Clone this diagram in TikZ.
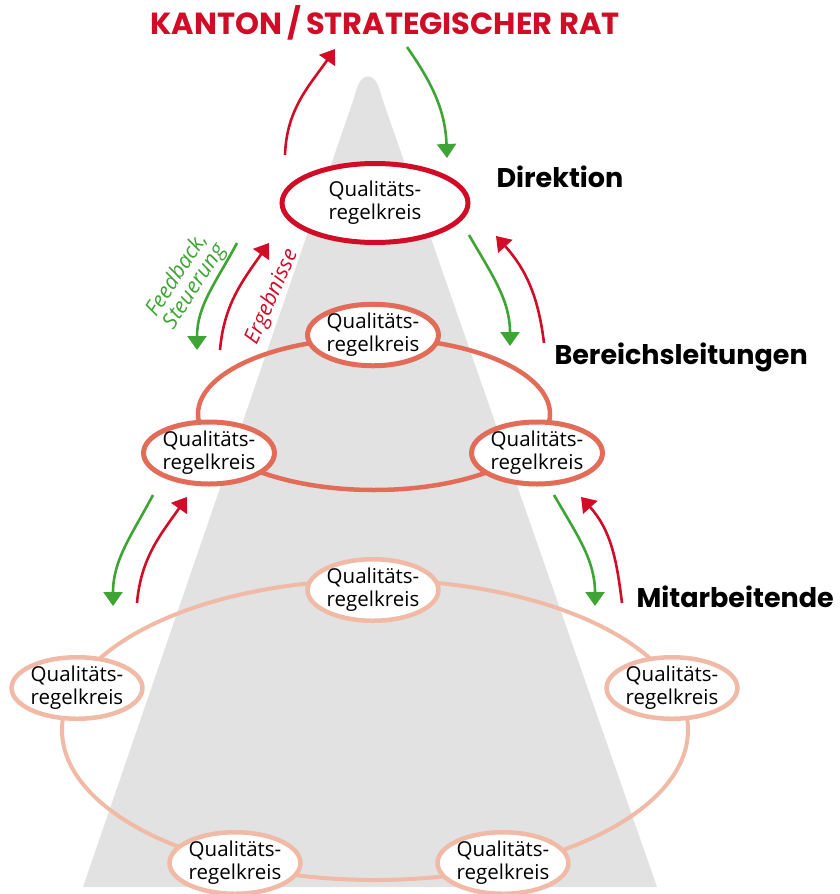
\documentclass[tikz,border=0pt]{standalone}
\usepackage{fontspec}
\setmainfont{Open Sans}
\newfontfamily\headfont{Poppins}
\usetikzlibrary{shapes.geometric,arrows.meta}
\definecolor{qred}{RGB}{208,12,38}
\definecolor{qgreen}{RGB}{62,165,53}
\definecolor{qmid}{RGB}{226,108,88}
\definecolor{qlight}{RGB}{241,186,166}
\definecolor{qgray}{RGB}{226,226,226}
\tikzset{
  qk/.style={ellipse, fill=white, inner sep=0pt, align=center, font=\fontsize{20.5}{23}\selectfont},
  bigring/.style={ellipse, inner sep=0pt},
  upar/.style={draw=qred, line width=2.6pt, -{Triangle[width=19pt,length=14pt]}},
  downar/.style={draw=qgreen, line width=2.6pt, -{Triangle[width=19pt,length=14pt]}},
  level/.style={anchor=west, font=\headfont\bfseries\fontsize{27}{30}\selectfont},
  slanted/.style={font=\itshape\fontsize{21.5}{21}\selectfont, inner sep=0pt}
}
\begin{document}
\begin{tikzpicture}[x=1pt,y=1pt]
\useasboundingbox (0,0) rectangle (839,-894);
% gray cone
\fill[qgray] (83,-887) -- (355,-95) .. controls (360,-70) and (376,-70) .. (381,-95) -- (657,-887) -- cycle;

% lower level
\node[bigring, draw=qlight, line width=4pt, minimum width=626pt, minimum height=300pt] (ring3) at (375,-730) {};
\node[qk, draw=qlight, line width=4.5pt, minimum width=128pt, minimum height=52pt] (l1) at (373,-590) {Qualitäts-\\regelkreis};
\node[qk, draw=qlight, line width=4.5pt, minimum width=128pt, minimum height=57pt] (l2) at (77,-688) {Qualitäts-\\regelkreis};
\node[qk, draw=qlight, line width=4.5pt, minimum width=128pt, minimum height=57pt] (l3) at (672,-688) {Qualitäts-\\regelkreis};
\node[qk, draw=qlight, line width=4.5pt, minimum width=128pt, minimum height=55pt] (l4) at (235,-863) {Qualitäts-\\regelkreis};
\node[qk, draw=qlight, line width=4.5pt, minimum width=128pt, minimum height=55pt] (l5) at (503,-863) {Qualitäts-\\regelkreis};

% middle level
\node[bigring, draw=qmid, line width=4.5pt, minimum width=352pt, minimum height=152pt] (ring2) at (374,-414) {};
\node[qk, draw=qmid, line width=5pt, minimum width=128pt, minimum height=57pt] (m1) at (373,-335) {Qualitäts-\\regelkreis};
\node[qk, draw=qmid, line width=5pt, minimum width=128pt, minimum height=62pt] (m2) at (209,-453) {Qualitäts-\\regelkreis};
\node[qk, draw=qmid, line width=5pt, minimum width=128pt, minimum height=62pt] (m3) at (537,-453) {Qualitäts-\\regelkreis};

% top level
\node[qk, draw=qred, line width=5pt, minimum width=186pt, minimum height=79pt] (d1) at (375,-203) {Qualitäts-\\regelkreis};

% titles
\node[font=\headfont\bfseries\fontsize{30.5}{34}\selectfont, text=qred] (title) at (385,-23) {KANTON\,/\,STRATEGISCHER RAT};
\node[level] (dir) at (493,-177) {Direktion};
\node[level] (ber) at (551,-357) {Bereichsleitungen};
\node[level] (mit) at (633,-597) {Mitarbeitende};

% italic labels
\node[slanted, text=qgreen, rotate=57, align=center] (fb) at (186,-281) {Feedback,\\Steuerung};
\node[slanted, text=qred, rotate=66] (erg) at (272,-297) {Ergebnisse};

% arrow end points
\coordinate (a1s) at (285,-155); \coordinate (a1e) at (335,-49);
\coordinate (a2s) at (407,-47);  \coordinate (a2e) at (447,-158);
\coordinate (b1s) at (237,-243); \coordinate (b1e) at (197,-350);
\coordinate (b2s) at (220,-350); \coordinate (b2e) at (269,-243);
\coordinate (c1s) at (469,-235); \coordinate (c1e) at (510,-346);
\coordinate (c2s) at (544,-343); \coordinate (c2e) at (496,-236);
\coordinate (e1s) at (153,-495); \coordinate (e1e) at (113,-606);
\coordinate (e2s) at (137,-603); \coordinate (e2e) at (187,-497);
\coordinate (f1s) at (554,-495); \coordinate (f1e) at (595,-606);
\coordinate (f2s) at (622,-603); \coordinate (f2e) at (581,-497);

\draw[upar] (a1s) to[out=88, in=235] (a1e);
\draw[downar] (a2s) to[out=-55, in=92] (a2e);
\draw[downar] (b1s) to[out=-118, in=90] (b1e);
\draw[upar] (b2s) to[out=85, in=235] (b2e);
\draw[downar] (c1s) to[out=-60, in=90] (c1e);
\draw[upar] (c2s) to[out=97, in=-48] (c2e);
\draw[downar] (e1s) to[out=-118, in=90] (e1e);
\draw[upar] (e2s) to[out=85, in=235] (e2e);
\draw[downar] (f1s) to[out=-60, in=90] (f1e);
\draw[upar] (f2s) to[out=97, in=-48] (f2e);
\end{tikzpicture}
\end{document}
